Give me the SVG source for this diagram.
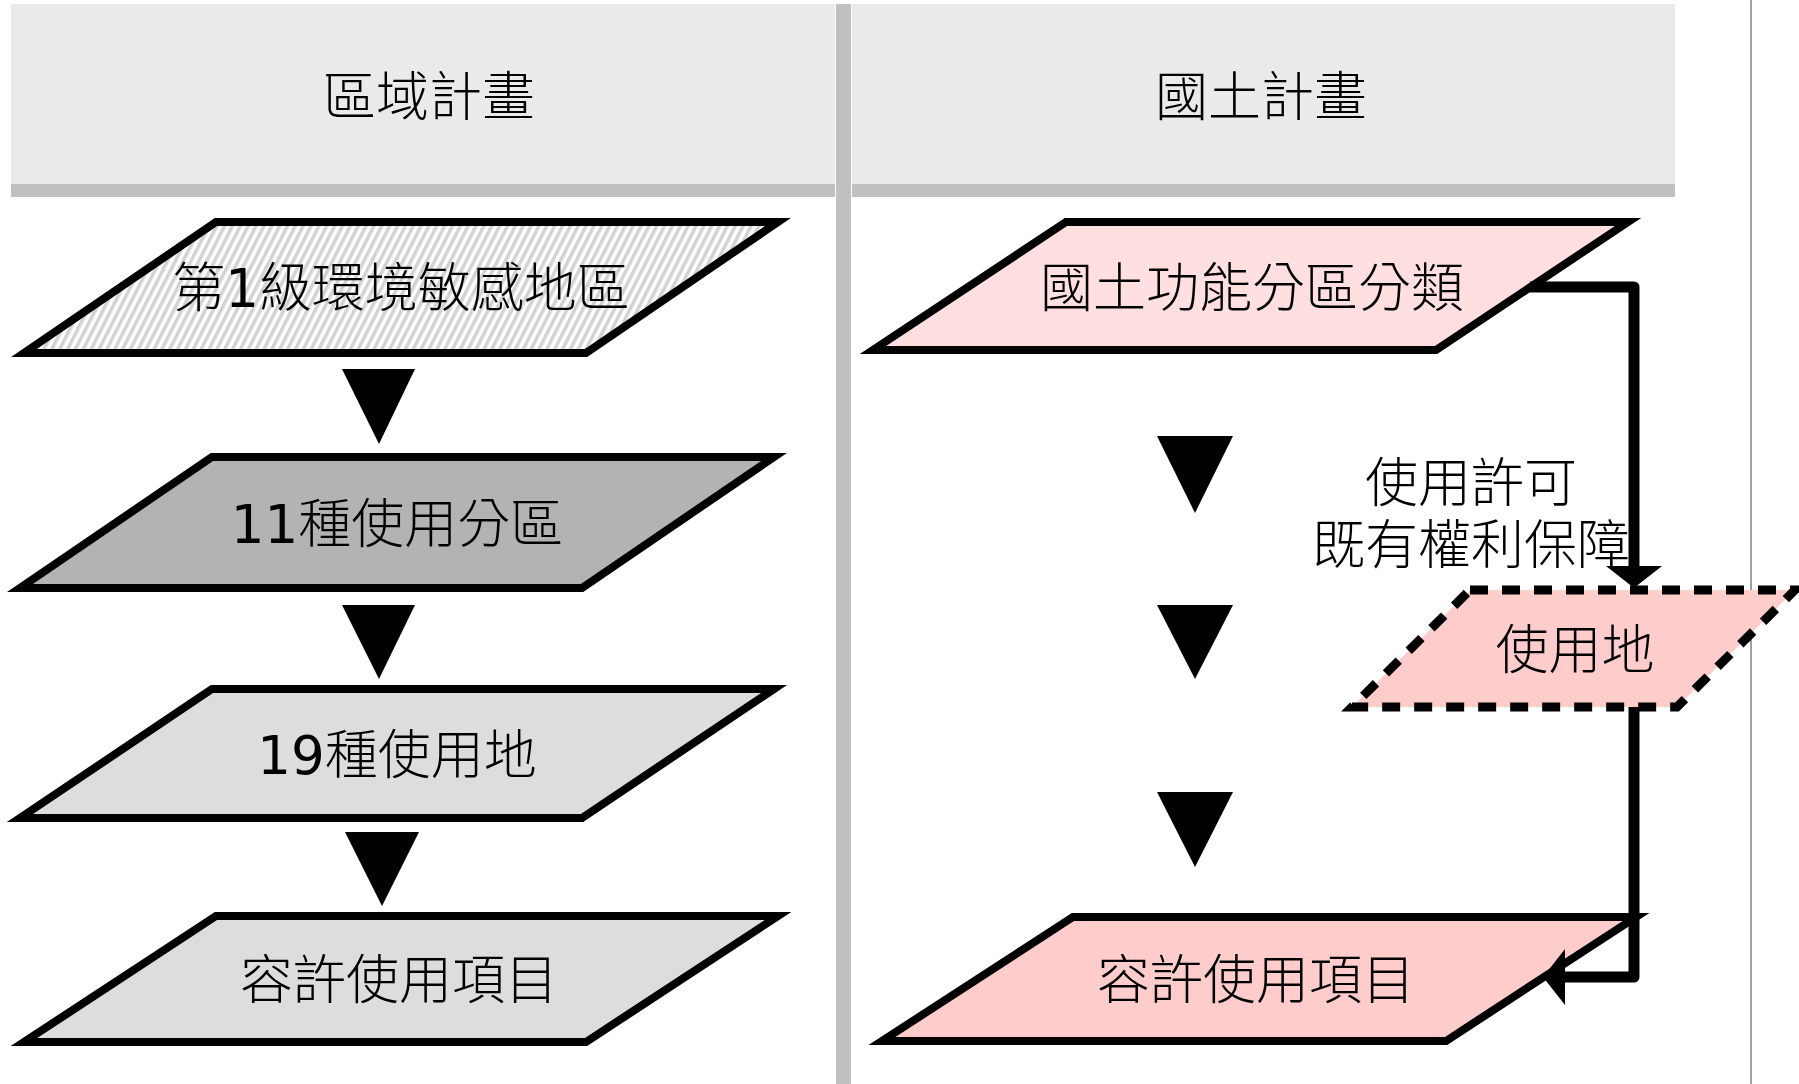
<svg xmlns="http://www.w3.org/2000/svg" width="1799" height="1084" viewBox="0 0 1799 1084">
<style>
  text { font-family: "DejaVu Sans", "Noto Sans CJK TC", "Noto Sans CJK SC", sans-serif; font-size: 53px; fill: #000; text-anchor: middle; font-weight: 300; }
  .num { font-weight: 400; }
  .node { stroke: #000; stroke-width: 8; stroke-linejoin: miter; }
  .dash { stroke-width: 9; stroke-dasharray: 18 14; }
  .conn { fill: none; stroke: #000; stroke-width: 11; stroke-linejoin: round; }
  .tri { fill: #000; }
</style>
<defs>
  <pattern id="hatch" patternUnits="userSpaceOnUse" width="7" height="10" patternTransform="rotate(27)">
    <rect width="7" height="10" fill="#ffffff"/>
    <rect width="3.5" height="10" fill="#d2d2d2"/>
  </pattern>
  <marker id="arrow" viewBox="0 0 22 56" refX="0" refY="28" markerWidth="22" markerHeight="56" markerUnits="userSpaceOnUse" orient="auto">
    <path d="M0,0 L22,28 L0,56 Z" fill="#000"/>
  </marker>
</defs>

<!-- lanes -->
<g id="lane-left">
  <rect x="11" y="4" width="824" height="180" fill="#eaeaea"/>
  <rect x="11" y="184" width="824" height="13" fill="#c0c0c0"/>
  <text x="429" y="116">區域計畫</text>
</g>
<g id="lane-right">
  <rect x="852" y="4" width="823" height="180" fill="#eaeaea"/>
  <rect x="852" y="184" width="823" height="13" fill="#c0c0c0"/>
  <text x="1261" y="116">國土計畫</text>
</g>
<rect x="836" y="4" width="15" height="1080" fill="#c0c0c0"/>
<line x1="1751" y1="0" x2="1751" y2="1084" stroke="#a0a0a0" stroke-width="2"/>

<!-- left column nodes -->
<g id="n-sensitive">
  <polygon class="node" points="216,222 778,222 586,353 24,353" fill="url(#hatch)"/>
  <text x="401" y="307">第<tspan class="num">1</tspan>級環境敏感地區</text>
</g>
<g id="n-zones">
  <polygon class="node" points="212,457 774,457 582,588 20,588" fill="#b3b3b3"/>
  <text x="397" y="543"><tspan class="num">11</tspan>種使用分區</text>
</g>
<g id="n-landuse19">
  <polygon class="node" points="212,689 774,689 582,818 20,818" fill="#dddddd"/>
  <text x="397" y="774"><tspan class="num">19</tspan>種使用地</text>
</g>
<g id="n-permit-left">
  <polygon class="node" points="216,916 778,916 586,1042 24,1042" fill="#dddddd"/>
  <text x="399" y="999">容許使用項目</text>
</g>

<!-- right column nodes -->
<g id="n-function">
  <polygon class="node" points="1066,222 1628,222 1436,350 873,350" fill="#ffdfe0"/>
  <text x="1252" y="307">國土功能分區分類</text>
</g>
<g id="n-landuse">
  <polygon class="node dash" points="1470,590 1795,590 1677,707 1352,707" fill="#ffcccc"/>
  <text x="1575" y="669">使用地</text>
</g>
<g id="n-permit-right">
  <polygon class="node" points="1073,917 1636,917 1446,1041 882,1041" fill="#ffcccc"/>
  <text x="1256" y="999">容許使用項目</text>
</g>

<!-- connectors -->
<g id="connectors">
  <polygon class="tri" points="342,369 415,369 379,444"/>
  <polygon class="tri" points="342,605 415,605 379,679"/>
  <polygon class="tri" points="345,832 419,832 382,906"/>
  <polygon class="tri" points="1157,436 1233,436 1195,513"/>
  <polygon class="tri" points="1157,605 1233,605 1195,679"/>
  <polygon class="tri" points="1157,792 1233,792 1195,867"/>
  <path class="conn" d="M1530,287 H1634 V566" marker-end="url(#arrow)"/>
  <path class="conn" d="M1634,707 V977 H1565" marker-end="url(#arrow)"/>
  <text x="1471" y="502"><tspan x="1471" y="502">使用許可</tspan><tspan x="1471" y="564">既有權利保障</tspan></text>
</g>
</svg>
